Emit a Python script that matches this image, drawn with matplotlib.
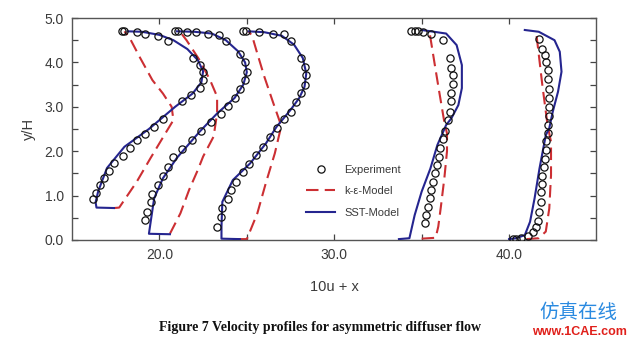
import numpy as np
import matplotlib
matplotlib.use("Agg")
import matplotlib.pyplot as plt
from matplotlib.ticker import MultipleLocator, FixedLocator, FormatStrFormatter

# measured profiles, one set per station: 10u + x against y/H
exp1_x = [17.85, 18.0, 18.7, 19.2, 19.9, 20.5, 21.9, 22.3, 22.5, 22.5, 22.3, 21.8, 21.3, 20.2, 19.7, 19.2, 18.7, 18.3, 17.9, 17.4, 17.1, 16.85, 16.6, 16.4, 16.2]
exp1_y = [4.70, 4.70, 4.68, 4.65, 4.60, 4.48, 4.11, 3.95, 3.78, 3.60, 3.42, 3.27, 3.12, 2.73, 2.55, 2.38, 2.25, 2.07, 1.89, 1.73, 1.55, 1.40, 1.24, 1.05, 0.92]
exp2_x = [20.9, 21.05, 21.55, 22.1, 22.8, 23.4, 23.8, 24.6, 24.9, 25.0, 24.9, 24.6, 24.3, 23.95, 23.5, 22.95, 22.4, 21.85, 21.3, 20.8, 20.5, 20.2, 19.9, 19.6, 19.5, 19.3, 19.2]
exp2_y = [4.70, 4.70, 4.69, 4.69, 4.65, 4.62, 4.49, 4.20, 4.00, 3.79, 3.60, 3.39, 3.20, 3.02, 2.84, 2.65, 2.45, 2.25, 2.05, 1.88, 1.65, 1.45, 1.24, 1.04, 0.85, 0.64, 0.45]
exp3_x = [24.8, 24.95, 25.7, 26.5, 27.1, 27.55, 28.1, 28.3, 28.4, 28.3, 28.1, 27.8, 27.5, 27.1, 26.7, 26.3, 25.9, 25.5, 25.1, 24.8, 24.4, 24.1, 23.9, 23.6, 23.5, 23.3]
exp3_y = [4.70, 4.70, 4.69, 4.65, 4.63, 4.49, 4.09, 3.90, 3.72, 3.49, 3.30, 3.10, 2.89, 2.72, 2.52, 2.31, 2.10, 1.91, 1.71, 1.54, 1.31, 1.13, 0.92, 0.71, 0.52, 0.30]
exp4_x = [34.4, 34.6, 34.8, 35.06, 35.55, 36.2, 36.6, 36.7, 36.8, 36.8, 36.7, 36.7, 36.6, 36.5, 36.35, 36.2, 36.07, 35.97, 35.87, 35.74, 35.65, 35.55, 35.46, 35.36, 35.27, 35.2]
exp4_y = [4.70, 4.70, 4.70, 4.69, 4.65, 4.50, 4.09, 3.88, 3.72, 3.51, 3.31, 3.12, 2.89, 2.70, 2.46, 2.27, 2.07, 1.88, 1.69, 1.50, 1.31, 1.13, 0.94, 0.75, 0.56, 0.38]
exp5_x = [41.74, 41.9, 42.03, 42.1, 42.2, 42.2, 42.3, 42.3, 42.3, 42.3, 42.2, 42.2, 42.1, 42.1, 42.05, 42.0, 41.9, 41.9, 41.84, 41.8, 41.74, 41.65, 41.55, 41.36, 41.07, 40.7, 40.4, 40.2]
exp5_y = [4.52, 4.30, 4.17, 4.00, 3.83, 3.62, 3.41, 3.20, 3.00, 2.80, 2.60, 2.42, 2.22, 2.02, 1.82, 1.64, 1.45, 1.27, 1.09, 0.86, 0.64, 0.43, 0.30, 0.19, 0.08, 0.04, 0.02, 0.02]

# k-epsilon model
ke1_x = [17.4, 17.7, 18.7, 19.5, 20.4, 20.8, 20.7, 20.2, 19.6, 18.9, 18.3, 18.0]
ke1_y = [0.72, 0.73, 1.31, 1.85, 2.44, 2.70, 3.00, 3.30, 3.60, 4.10, 4.55, 4.70]
ke2_x = [20.6, 21.2, 21.7, 22.2, 22.5, 23.1, 23.3, 23.3, 22.9, 22.3, 21.55, 21.2]
ke2_y = [0.14, 0.60, 1.13, 1.58, 1.88, 2.33, 2.85, 3.23, 3.60, 4.05, 4.50, 4.68]
ke3_x = [24.4, 25.0, 25.6, 26.1, 26.6, 26.9, 26.9, 26.5, 26.0, 25.6, 25.3, 25.1]
ke3_y = [0.02, 0.02, 0.60, 1.30, 1.95, 2.45, 2.65, 3.10, 3.68, 4.20, 4.60, 4.70]
ke4_x = [35.0, 35.8, 35.95, 36.1, 36.3, 36.45, 36.45, 36.3, 36.0, 35.75, 35.45]
ke4_y = [0.03, 0.05, 0.30, 0.75, 1.40, 2.00, 2.40, 2.65, 3.35, 3.95, 4.68]
ke5_x = [41.0, 41.7, 42.1, 42.3, 42.4, 42.4, 42.2, 41.9, 41.55]
ke5_y = [0.02, 0.04, 0.19, 0.71, 1.46, 2.21, 2.59, 3.50, 4.68]

# SST model
sst1_x = [18.2, 19.0, 20.0, 20.8, 21.6, 22.2, 22.5, 22.4, 21.9, 20.9, 19.4, 18.0, 17.0, 16.5, 16.35, 16.4, 17.4]
sst1_y = [4.70, 4.69, 4.62, 4.50, 4.30, 4.05, 3.80, 3.55, 3.30, 3.00, 2.50, 2.10, 1.62, 1.10, 0.85, 0.73, 0.72]
sst2_x = [21.0, 22.0, 23.0, 23.8, 24.5, 24.9, 25.0, 24.8, 24.3, 23.3, 22.3, 21.0, 20.2, 19.7, 19.5, 19.4, 20.6]
sst2_y = [4.70, 4.69, 4.65, 4.50, 4.25, 4.00, 3.78, 3.50, 3.20, 2.85, 2.44, 1.85, 1.39, 0.94, 0.41, 0.14, 0.13]
sst3_x = [25.1, 26.0, 27.0, 27.7, 28.2, 28.4, 28.3, 28.0, 27.5, 26.7, 26.1, 25.2, 24.2, 23.6, 23.55, 23.55, 24.6]
sst3_y = [4.70, 4.68, 4.60, 4.40, 4.10, 3.75, 3.45, 3.20, 2.93, 2.55, 2.18, 1.73, 1.35, 0.86, 0.30, 0.03, 0.02]
sst4_x = [35.0, 36.4, 37.0, 37.3, 37.3, 37.1, 36.7, 36.4, 35.9, 35.5, 35.0, 34.6, 34.3, 33.7]
sst4_y = [4.73, 4.65, 4.39, 3.94, 3.42, 3.04, 2.74, 2.59, 2.14, 1.61, 1.09, 0.56, 0.04, 0.02]
sst5_x = [40.9, 41.7, 42.6, 42.9, 43.0, 42.8, 42.5, 42.3, 42.1, 41.74, 41.46, 41.2, 40.9, 40.4, 40.0]
sst5_y = [4.73, 4.69, 4.50, 4.24, 3.79, 3.34, 2.89, 2.52, 2.36, 1.61, 0.94, 0.41, 0.11, 0.04, 0.02]

exp_x = [exp1_x, exp2_x, exp3_x, exp4_x, exp5_x]
exp_y = [exp1_y, exp2_y, exp3_y, exp4_y, exp5_y]
ke_x = [ke1_x, ke2_x, ke3_x, ke4_x, ke5_x]
ke_y = [ke1_y, ke2_y, ke3_y, ke4_y, ke5_y]
sst_x = [sst1_x, sst2_x, sst3_x, sst4_x, sst5_x]
sst_y = [sst1_y, sst2_y, sst3_y, sst4_y, sst5_y]

red = '#cc2f33'
blue = '#25258f'
grey = '#3a3a3a'

plt.rcParams['font.family'] = ['Liberation Sans', 'DejaVu Sans']

fig = plt.figure(figsize=(6.4, 3.41), dpi=100)
ax = fig.add_axes([0.1125, 0.2962, 0.8195, 0.651])

for i in range(5):
    ax.plot(ke_x[i], ke_y[i], color=red, lw=1.5, dashes=(6, 3),
            label='k-ε-Model' if i == 0 else None, zorder=2)
    ax.plot(sst_x[i], sst_y[i], color=blue, lw=1.5,
            label='SST-Model' if i == 0 else None, zorder=3)
    ax.plot(exp_x[i], exp_y[i], ls='none', marker='o', ms=5.2, mfc='none',
            mec='#111111', mew=0.9, label='Experiment' if i == 0 else None, zorder=4)

ax.set_xlim(15, 45)
ax.set_ylim(0, 5)
ax.xaxis.set_major_locator(FixedLocator([20, 30, 40]))
ax.xaxis.set_minor_locator(FixedLocator([25, 35]))
ax.yaxis.set_major_locator(MultipleLocator(1.0))
ax.yaxis.set_minor_locator(MultipleLocator(0.5))
ax.xaxis.set_major_formatter(FormatStrFormatter('%.1f'))
ax.yaxis.set_major_formatter(FormatStrFormatter('%.1f'))
ax.tick_params(which='both', direction='in', top=True, right=True,
               length=4.5, width=0.9, color='#444444', labelsize=10,
               labelcolor=grey, pad=6)
for s in ax.spines.values():
    s.set_color('#555555')
    s.set_linewidth(1.0)

ax.set_ylabel('y/H', fontsize=10.5, color=grey, labelpad=6)
ax.set_xlabel('10u + x', fontsize=10.5, color=grey, labelpad=13)

h, l = ax.get_legend_handles_labels()
order = [l.index('Experiment'), l.index('k-ε-Model'), l.index('SST-Model')]
ax.legend([h[k] for k in order], [l[k] for k in order], loc='upper left',
          bbox_to_anchor=(0.447, 0.34), frameon=False, fontsize=8,
          labelcolor=grey, handlelength=2.6, labelspacing=1.05,
          borderpad=0, borderaxespad=0, handletextpad=0.8)

fig.text(0.5, 0.04, 'Figure 7 Velocity profiles for asymmetric diffuser flow',
         ha='center', va='center', fontsize=10, fontweight='bold',
         family='Liberation Serif', color='#111111')

fig.text(0.904, 0.083, '仿真在线', ha='center', va='center', fontsize=14,
         color='#2a8ae0', family=['Noto Sans CJK SC', 'DejaVu Sans'])
fig.text(0.905, 0.027, 'www.1CAE.com', ha='center', va='center', fontsize=9,
         color='#e0201b', fontweight='bold')

fig.savefig('out.png', dpi=100)
